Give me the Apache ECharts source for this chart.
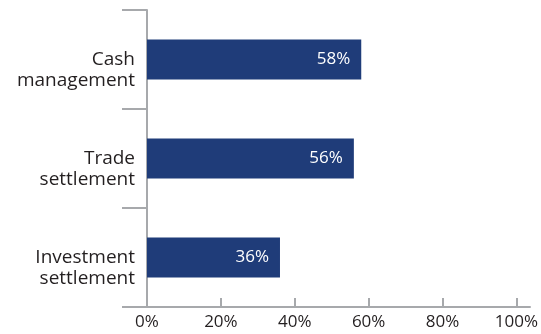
<!DOCTYPE html>
<html>
<head>
<meta charset="utf-8">
<script src="https://cdn.jsdelivr.net/npm/echarts@6/dist/echarts.min.js"></script>
<style>html,body{margin:0;padding:0;background:#fff;}#c{width:541px;height:334px;}</style>
</head>
<body>
<div id="c"></div>
<script>
const categories = ['Cash management', 'Trade settlement', 'Investment settlement'];
const values = [58, 56, 36];
const xTicks = [0, 20, 40, 60, 80, 100];

const gray = '#a7a9ac';
const font = 'Open Sans';
const chart = echarts.init(document.getElementById('c'), null, {renderer: 'canvas'});
chart.setOption({
  animation: false,
  grid: [
    {left: 147, right: 24, top: 10, bottom: 27},
    {left: 147, right: 11, top: 10, bottom: 27}
  ],
  xAxis: [
    {
      gridIndex: 0, type: 'value', min: xTicks[0], max: xTicks[xTicks.length - 1],
      interval: xTicks[1] - xTicks[0],
      axisLine: {show: false},
      axisTick: {show: true, inside: true, length: 9, lineStyle: {color: gray, width: 2}},
      splitLine: {show: false},
      axisLabel: {formatter: '{value}%', color: '#231f20', fontFamily: font, fontSize: 17, margin: 7}
    },
    {
      gridIndex: 1, type: 'value', min: 0, max: 1,
      axisLine: {show: true, lineStyle: {color: gray, width: 2}},
      axisTick: {show: false}, axisLabel: {show: false}, splitLine: {show: false}
    }
  ],
  yAxis: [
    {
      gridIndex: 0, type: 'category', data: categories, inverse: true,
      axisLine: {show: true, lineStyle: {color: gray, width: 2}},
      axisTick: {show: true, length: 25, lineStyle: {color: gray, width: 2}},
      axisLabel: {
        color: '#231f20', fontFamily: font, fontSize: 19, lineHeight: 21, margin: 12, align: 'right',
        formatter: v => '\n' + v.replace(' ', '\n')
      }
    },
    {gridIndex: 1, type: 'value', show: false}
  ],
  series: [{
    type: 'bar', xAxisIndex: 0, yAxisIndex: 0,
    data: values, barWidth: 40,
    itemStyle: {color: '#1f3c79'},
    label: {
      show: true, position: 'insideRight', distance: 11,
      formatter: p => p.value + '%',
      color: '#ffffff', fontFamily: font, fontSize: 17
    }
  }]
});
</script>
</body>
</html>
